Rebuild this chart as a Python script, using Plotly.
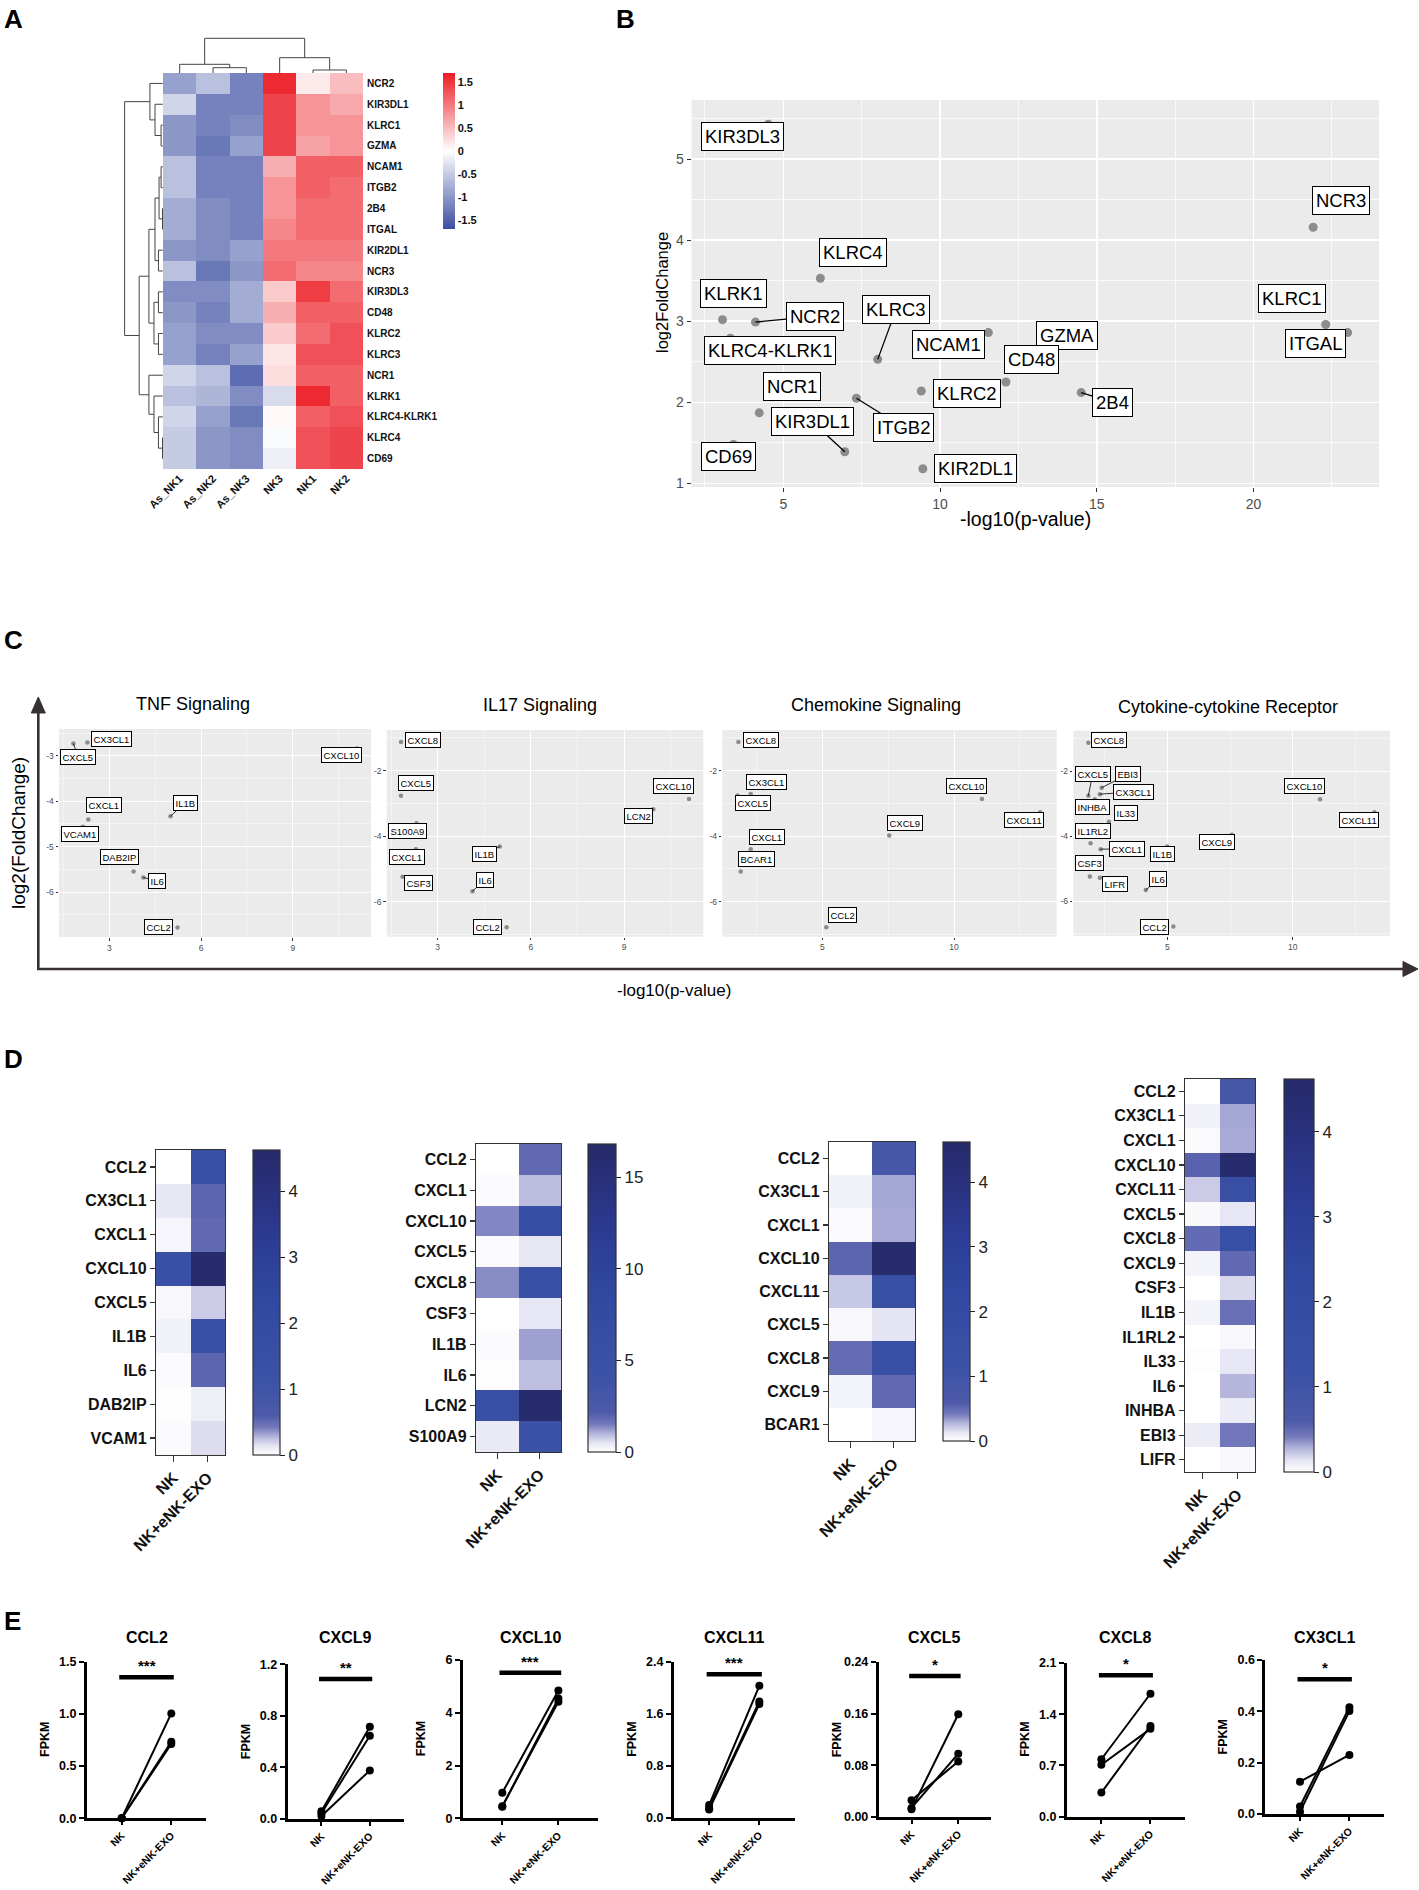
import plotly.graph_objects as go

W, H = 1419, 1890
FONT = "Liberation Sans, Arial, Helvetica, sans-serif"

# ======================= DATA =======================
# ---- Panel A : z-score heatmap ----
a_genes = ["NCR2", "KIR3DL1", "KLRC1", "GZMA", "NCAM1", "ITGB2", "2B4", "ITGAL", "KIR2DL1", "NCR3",
           "KIR3DL3", "CD48", "KLRC2", "KLRC3", "NCR1", "KLRK1", "KLRC4-KLRK1", "KLRC4", "CD69"]
a_samples = ["As_NK1", "As_NK2", "As_NK3", "NK3", "NK1", "NK2"]
a_z = [
    [-0.9, -0.6, -1.2, 1.6, 0.15, 0.5],
    [-0.4, -1.2, -1.2, 1.4, 0.8, 0.65],
    [-1.0, -1.2, -1.1, 1.4, 0.8, 0.8],
    [-1.0, -1.3, -0.9, 1.4, 0.7, 0.8],
    [-0.6, -1.2, -1.2, 0.6, 1.2, 1.2],
    [-0.6, -1.2, -1.2, 0.8, 1.2, 1.1],
    [-0.8, -1.1, -1.2, 0.8, 1.1, 1.1],
    [-0.8, -1.1, -1.2, 0.9, 1.1, 1.1],
    [-1.0, -1.1, -0.9, 1.0, 1.0, 1.0],
    [-0.6, -1.3, -1.0, 1.1, 0.9, 0.9],
    [-1.1, -1.1, -0.8, 0.4, 1.45, 1.1],
    [-1.0, -1.2, -0.8, 0.6, 1.2, 1.2],
    [-0.9, -1.1, -1.1, 0.4, 1.1, 1.3],
    [-0.9, -1.2, -0.9, 0.2, 1.3, 1.3],
    [-0.4, -0.6, -1.4, 0.25, 1.2, 1.2],
    [-0.6, -0.7, -1.1, -0.35, 1.6, 1.2],
    [-0.4, -0.9, -1.3, 0.05, 1.2, 1.3],
    [-0.5, -1.0, -1.1, -0.05, 1.3, 1.4],
    [-0.5, -1.0, -1.1, -0.15, 1.3, 1.4],
]
# dendrograms: (height, left, right) ; leaves = index
a_col_tree = (34.7, (8.7, 0, (5.3, 1, 2)), (15.3, 3, (3.0, 4, 5)))
a_row_tree = (37.7,
              (12.7, 0, (7.7, 1, (1.7, 2, 3))),
              (23.3,
               (13.7, (7.7, (3.7, (1.7, 4, 5), (0.3, 6, 7)), (4.3, 8, 9)),
                (8.7, (4.3, 10, 11), (4.3, 12, 13))),
               (13.7, 14, (8.7, 15, (4.3, 16, (0.3, 17, 18))))))

# ---- Panel B : volcano-like scatter ----
b_genes = ["KIR3DL3", "NCR3", "KLRC4", "KLRK1", "NCR2", "KLRC4-KLRK1", "KLRC3", "NCAM1", "GZMA", "CD48",
           "KLRC1", "ITGAL", "KLRC2", "2B4", "NCR1", "ITGB2", "KIR3DL1", "CD69", "KIR2DL1"]
b_x = [4.52, 21.9, 6.18, 3.06, 4.11, 3.31, 8.01, 11.54, 13.3, 12.1, 22.3, 23.0, 9.40, 14.5, 4.23, 7.33, 6.96, 3.41, 9.45]
b_y = [5.43, 4.16, 3.53, 3.02, 2.99, 2.79, 2.53, 2.86, 2.80, 2.25, 2.96, 2.86, 2.14, 2.12, 1.87, 2.05, 1.39, 1.48, 1.18]

# ---- Panel C : four pathway scatters ----
tnf_genes = ["CXCL5", "CX3CL1", "CXCL10", "CXCL1", "VCAM1", "IL1B", "DAB2IP", "IL6", "CCL2"]
tnf_x = [1.82, 2.28, 11.09, 2.31, 2.13, 5.00, 3.79, 4.11, 5.23]
tnf_y = [-2.73, -2.71, -2.84, -4.40, -4.56, -4.33, -5.55, -5.68, -6.78]

il17_genes = ["CXCL8", "CXCL5", "S100A9", "CXCL1", "CSF3", "IL1B", "IL6", "CCL2", "CXCL10", "LCN2"]
il17_x = [1.82, 1.82, 2.32, 2.30, 1.87, 5.00, 4.12, 5.22, 11.09, 9.94]
il17_y = [-1.13, -2.77, -3.61, -4.40, -5.24, -4.32, -5.68, -6.78, -2.87, -3.18]

chem_genes = ["CXCL8", "CX3CL1", "CXCL5", "CXCL1", "BCAR1", "CCL2", "CXCL9", "CXCL10", "CXCL11"]
chem_x = [1.81, 2.28, 1.78, 2.28, 1.90, 5.15, 7.54, 11.06, 13.27]
chem_y = [-1.13, -2.71, -2.76, -4.40, -5.08, -6.78, -3.98, -2.87, -3.27]

cyto_genes = ["CXCL8", "CXCL5", "EBI3", "CX3CL1", "INHBA", "IL33", "IL1RL2", "CXCL1", "IL1B", "CSF3",
              "LIFR", "IL6", "CCL2", "CXCL9", "CXCL10", "CXCL11"]
cyto_x = [1.85, 1.85, 2.38, 2.31, 2.11, 2.67, 1.94, 2.34, 5.00, 1.91, 2.31, 4.14, 5.24, 7.57, 11.09, 13.26]
cyto_y = [-1.13, -2.76, -2.51, -2.71, -2.87, -3.56, -4.22, -4.40, -4.32, -5.24, -5.28, -5.66, -6.78, -3.96, -2.87, -3.27]

c_titles = ["TNF Signaling", "IL17 Signaling", "Chemokine Signaling", "Cytokine-cytokine Receptor"]

# ---- Panel D : expression heatmaps (NK vs NK+eNK-EXO) ----
d_groups = ["NK", "NK+eNK-EXO"]
d1_genes = ["CCL2", "CX3CL1", "CXCL1", "CXCL10", "CXCL5", "IL1B", "IL6", "DAB2IP", "VCAM1"]
d1_nk = [0.0, 0.12, 0.05, 1.4, 0.04, 0.07, 0.02, 0.01, 0.02]
d1_exo = [1.6, 0.53, 0.51, 4.5, 0.21, 1.4, 0.53, 0.09, 0.16]
d2_genes = ["CCL2", "CXCL1", "CXCL10", "CXCL5", "CXCL8", "CSF3", "IL1B", "IL6", "LCN2", "S100A9"]
d2_nk = [0.0, 0.08, 1.4, 0.1, 1.35, 0.0, 0.07, 0.03, 5.5, 0.39]
d2_exo = [1.85, 0.92, 5.9, 0.45, 5.0, 0.47, 1.18, 0.9, 16.5, 4.2]
d3_genes = ["CCL2", "CX3CL1", "CXCL1", "CXCL10", "CXCL11", "CXCL5", "CXCL8", "CXCL9", "BCAR1"]
d3_nk = [0.0, 0.07, 0.025, 0.53, 0.22, 0.04, 0.49, 0.06, 0.0]
d3_exo = [0.8, 0.31, 0.3, 4.48, 1.5, 0.14, 1.55, 0.51, 0.05]
d4_genes = ["CCL2", "CX3CL1", "CXCL1", "CXCL10", "CXCL11", "CXCL5", "CXCL8", "CXCL9", "CSF3", "IL1B",
            "IL1RL2", "IL33", "IL6", "INHBA", "EBI3", "LIFR"]
d4_nk = [0.0, 0.07, 0.025, 0.55, 0.21, 0.03, 0.5, 0.06, 0.0, 0.06, 0.0, 0.01, 0.0, 0.0, 0.1, 0.0]
d4_exo = [0.8, 0.31, 0.3, 4.48, 1.5, 0.13, 1.6, 0.51, 0.17, 0.47, 0.04, 0.13, 0.27, 0.1, 0.43, 0.04]

# ---- Panel E : paired FPKM plots ----
e_genes = ["CCL2", "CXCL9", "CXCL10", "CXCL11", "CXCL5", "CXCL8", "CX3CL1"]
e_nk = [[0.0, 0.0, 0.0], [0.06, 0.044, 0.023], [0.97, 0.44, 0.46], [0.20, 0.15, 0.13],
        [0.012, 0.026, 0.014], [0.785, 0.71, 0.33], [0.126, 0.029, 0.009]]
e_exo = [[1.005, 0.734, 0.712], [0.716, 0.646, 0.377], [4.84, 4.54, 4.42], [2.03, 1.79, 1.75],
         [0.159, 0.086, 0.098], [1.68, 1.20, 1.24], [0.23, 0.416, 0.401]]
e_sig = ["***", "**", "***", "***", "*", "*", "*"]
e_ticks = [["0.0", "0.5", "1.0", "1.5"], ["0.0", "0.4", "0.8", "1.2"], ["0", "2", "4", "6"],
           ["0.0", "0.8", "1.6", "2.4"], ["0.00", "0.08", "0.16", "0.24"], ["0.0", "0.7", "1.4", "2.1"],
           ["0.0", "0.2", "0.4", "0.6"]]

# ======================= LAYOUT HELPERS =======================
fig = go.Figure()
axes_layout = {}
annotations = []
shapes = []
counter = [0]


def new_axes(x0, x1, y0, y1, xo=None, yo=None):
    counter[0] += 1
    s = "" if counter[0] == 1 else str(counter[0])
    xd = dict(domain=[x0 / W, x1 / W], anchor="y" + s, automargin=False, showgrid=False,
              zeroline=False, showline=False, ticks="", fixedrange=True)
    yd = dict(domain=[1 - y1 / H, 1 - y0 / H], anchor="x" + s, automargin=False, showgrid=False,
              zeroline=False, showline=False, ticks="", fixedrange=True)
    if xo:
        xd.update(xo)
    if yo:
        yd.update(yo)
    axes_layout["xaxis" + s] = xd
    axes_layout["yaxis" + s] = yd
    return "x" + s, "y" + s


def dendro_segments(tree):
    pos, hts = [], []

    def rec(node):
        if isinstance(node, int):
            return float(node), 0.0
        h, l, r = node
        pl, hl = rec(l)
        pr, hr = rec(r)
        pos.extend([pl, pl, pr, pr, None])
        hts.extend([hl, h, h, hr, None])
        return (pl + pr) / 2.0, h

    rec(tree)
    return pos, hts


def letter(txt, x, y):
    annotations.append(dict(text="<b>%s</b>" % txt, x=x / W, y=1 - y / H, xref="paper", yref="paper",
                            xanchor="left", yanchor="top", showarrow=False,
                            font=dict(size=26, color="black", family=FONT)))


def ptext(txt, x, y, size, angle=0, weight="normal", color="black"):
    annotations.append(dict(text=txt, x=x / W, y=1 - y / H, xref="paper", yref="paper",
                            xanchor="center", yanchor="middle", showarrow=False, textangle=angle,
                            font=dict(size=size, color=color, family=FONT, weight=weight)))


# ======================= PANEL A =======================
letter("A", 2, 2)
A_SCALE = [[0, "#3b4ea1"], [0.5, "#ffffff"], [1, "#ec1c24"]]
bold_narrow = dict(size=10, color="#111", family="Liberation Sans Narrow, Liberation Sans, Arial", weight="bold")
bold_cols = dict(size=11, color="#111", family="Liberation Sans Narrow, Liberation Sans, Arial", weight="bold")
ax, ay = new_axes(163, 363, 73, 469,
                  dict(range=[-0.5, 5.5], tickmode="array", tickvals=list(range(6)), ticktext=a_samples,
                       tickangle=-45, tickfont=bold_cols),
                  dict(range=[18.5, -0.5], tickmode="array", tickvals=list(range(19)), ticktext=a_genes,
                       side="right", tickfont=bold_narrow, ticklabelstandoff=3))
fig.add_trace(go.Heatmap(z=a_z, x=list(range(6)), y=list(range(19)), xaxis=ax, yaxis=ay,
                         zmin=-1.7, zmax=1.7, colorscale=A_SCALE, hoverinfo="skip",
                         colorbar=dict(x=443 / W, xanchor="left", y=1 - 151 / H, yanchor="middle",
                                       len=156, lenmode="pixels", thickness=12, thicknessmode="pixels",
                                       xpad=0, ypad=0, outlinewidth=0, ticks="",
                                       tickvals=[1.5, 1, 0.5, 0, -0.5, -1, -1.5],
                                       ticktext=["1.5", "1", "0.5", "0", "-0.5", "-1", "-1.5"],
                                       tickfont=bold_cols)))
cpos, chts = dendro_segments(a_col_tree)
dx, dy = new_axes(163, 363, 37, 73, dict(range=[-0.5, 5.5], showticklabels=False),
                  dict(range=[0, 36], showticklabels=False))
fig.add_trace(go.Scatter(x=cpos, y=chts, mode="lines", line=dict(color="#444", width=1),
                         xaxis=dx, yaxis=dy, hoverinfo="skip"))
rpos, rhts = dendro_segments(a_row_tree)
rx, ry = new_axes(124, 163, 73, 469, dict(range=[38.3, -0.2], showticklabels=False),
                  dict(range=[18.5, -0.5], showticklabels=False))
fig.add_trace(go.Scatter(x=rhts, y=rpos, mode="lines", line=dict(color="#444", width=1),
                         xaxis=rx, yaxis=ry, hoverinfo="skip"))

# ======================= label helper (ggrepel style) =======================


def add_labels(names, xs, ys, labpos, segs, xr, yr, size, pad, aw):
    for n, x, y, (lx, ly) in zip(names, xs, ys, labpos):
        base = dict(text=n, xref=xr, yref=yr, font=dict(size=size, color="black", family=FONT),
                    bgcolor="white", bordercolor="black", borderwidth=1, borderpad=pad)
        if n in segs:
            base.update(x=x, y=y, ax=lx, ay=ly, axref=xr, ayref=yr, showarrow=True, arrowhead=0,
                        arrowwidth=aw, arrowcolor="black")
        else:
            base.update(x=lx, y=ly, showarrow=False)
        annotations.append(base)


def gg_axes(x0, x1, y0, y1, xr, yr, xt, yt, xminor, yminor, fs, tl, gw):
    xo = dict(range=xr, tickmode="array", tickvals=xt, ticktext=[str(v) for v in xt], showgrid=True,
              gridcolor="white", gridwidth=gw, ticks="outside", ticklen=tl, tickcolor="#333", tickwidth=1,
              tickfont=dict(size=fs, color="#4d4d4d", family=FONT),
              minor=dict(tickmode="linear", tick0=0, dtick=xminor, showgrid=True, gridcolor="white",
                         gridwidth=gw * 0.45, ticks=""))
    yo = dict(range=yr, tickmode="array", tickvals=yt, ticktext=[str(v) for v in yt], showgrid=True,
              gridcolor="white", gridwidth=gw, ticks="outside", ticklen=tl, tickcolor="#333", tickwidth=1,
              tickfont=dict(size=fs, color="#4d4d4d", family=FONT),
              minor=dict(tickmode="linear", tick0=0, dtick=yminor, showgrid=True, gridcolor="white",
                         gridwidth=gw * 0.45, ticks=""))
    xa, ya = new_axes(x0, x1, y0, y1, xo, yo)
    shapes.append(dict(type="rect", xref=xa + " domain", yref=ya + " domain", x0=0, x1=1, y0=0, y1=1,
                       fillcolor="#EBEBEB", line=dict(width=0), layer="below"))
    return xa, ya


# ======================= PANEL B =======================
letter("B", 614, 2)
bxa, bya = gg_axes(691.5, 1379, 100, 487, [2.07, 24.0], [0.955, 5.73], [5, 10, 15, 20], [1, 2, 3, 4, 5],
                   2.5, 0.5, 14, 4, 1.6)
fig.add_trace(go.Scatter(x=b_x, y=b_y, mode="markers", marker=dict(color="#8c8c8c", size=9),
                         xaxis=bxa, yaxis=bya, hoverinfo="skip", cliponaxis=False))
b_labpos = [(3.69, 5.28), (22.8, 4.49), (7.23, 3.85), (3.42, 3.34), (6.0, 3.06), (4.57, 2.64), (8.6, 3.15),
            (10.26, 2.71), (14.05, 2.83), (12.9, 2.53), (21.24, 3.28), (21.96, 2.72), (10.87, 2.11),
            (15.5, 2.0), (5.29, 2.20), (8.84, 1.69), (5.92, 1.76), (3.25, 1.33), (11.14, 1.18)]
add_labels(b_genes, b_x, b_y, b_labpos, {"NCR2", "KLRC3", "ITGB2", "KIR3DL1", "2B4"}, bxa, bya, 18.5, 3, 1.3)
ptext("log2FoldChange", 662, 293, 16.5, angle=-90)
ptext("-log10(p-value)", 1025, 519, 19.5)

# ======================= PANEL C =======================
letter("C", 2, 623)
c_specs = [
    (tnf_genes, tnf_x, tnf_y,
     [(1.98, -3.02), (3.08, -2.62), (10.6, -2.98), (2.81, -4.09), (2.04, -4.73), (5.48, -4.03),
      (3.32, -5.22), (4.55, -5.76), (4.62, -6.78)],
     {"CXCL5", "IL1B", "IL6"}, (59, 371, 729, 937), [1.35, 11.56], [-6.99, -2.41],
     [3, 6, 9], [-6, -5, -4, -3], 1.5, 0.5, (193, 704)),
    (il17_genes, il17_x, il17_y,
     [(2.54, -1.06), (2.29, -2.39), (2.03, -3.83), (2.00, -4.63), (2.38, -5.44), (4.50, -4.54),
      (4.52, -5.34), (4.61, -6.78), (10.59, -2.47), (9.46, -3.40)],
     {"IL1B", "IL6", "LCN2"}, (386.7, 703.3, 730, 936.7), [1.36, 11.55], [-7.07, -0.76],
     [3, 6, 9], [-6, -4, -2], 1.5, 1, (540, 705)),
    (chem_genes, chem_x, chem_y,
     [(2.66, -1.06), (2.89, -2.34), (2.38, -2.98), (2.89, -4.02), (2.51, -4.70), (5.77, -6.41),
      (8.15, -3.59), (10.46, -2.47), (12.67, -3.51)],
     set(), (722.3, 1056.7, 730, 936.7), [1.20, 13.9], [-7.07, -0.76],
     [5, 10], [-6, -4, -2], 2.5, 1, (876, 705)),
    (cyto_genes, cyto_x, cyto_y,
     [(2.69, -1.06), (2.02, -2.10), (3.44, -2.10), (3.67, -2.64), (2.02, -3.12), (3.35, -3.28),
      (2.05, -3.83), (3.40, -4.40), (4.81, -4.54), (1.91, -4.83), (2.91, -5.47), (4.64, -5.32),
      (4.47, -6.78), (6.97, -4.19), (10.47, -2.47), (12.66, -3.49)],
     {"CXCL5", "EBI3", "CX3CL1", "CXCL1", "IL6"}, (1073.3, 1390, 730.7, 936), [1.25, 13.88], [-7.07, -0.76],
     [5, 10], [-6, -4, -2], 2.5, 1, (1228, 707)),
]
for (title, spec) in zip(c_titles, c_specs):
    names, xs, ys, labpos, segs, box, xr, yr, xt, yt, xm, ym, tpos = spec
    cxa, cya = gg_axes(box[0], box[1], box[2], box[3], xr, yr, xt, yt, xm, ym, 8.5, 2.5, 1.0)
    fig.add_trace(go.Scatter(x=xs, y=ys, mode="markers", marker=dict(color="#8c8c8c", size=4.5),
                             xaxis=cxa, yaxis=cya, hoverinfo="skip", cliponaxis=False))
    add_labels(names, xs, ys, labpos, segs, cxa, cya, 9.5, 1.5, 0.8)
    ptext(title, tpos[0], tpos[1], 18)

# big arrows for panel C
AX_COL = "#383030"


def pp(x, y):
    return "%.5f,%.5f" % (x / W, 1 - y / H)


shapes.append(dict(type="line", xref="paper", yref="paper", x0=38.3 / W, x1=38.3 / W, y0=1 - 969.5 / H,
                   y1=1 - 710 / H, line=dict(color=AX_COL, width=2.6)))
shapes.append(dict(type="path", xref="paper", yref="paper",
                   path="M %s L %s L %s Z" % (pp(31.3, 713), pp(38.3, 697), pp(45.3, 713)),
                   fillcolor=AX_COL, line=dict(color=AX_COL, width=1)))
shapes.append(dict(type="line", xref="paper", yref="paper", x0=37 / W, x1=1405 / W, y0=1 - 969 / H,
                   y1=1 - 969 / H, line=dict(color=AX_COL, width=2.6)))
shapes.append(dict(type="path", xref="paper", yref="paper",
                   path="M %s L %s L %s Z" % (pp(1403, 961.5), pp(1418, 969), pp(1403, 976.5)),
                   fillcolor=AX_COL, line=dict(color=AX_COL, width=1)))
ptext("log2(FoldChange)", 18, 833, 19, angle=-90)
ptext("-log10(p-value)", 674, 990, 17)

# ======================= PANEL D =======================
letter("D", 2, 1042)
D_SCALE = [[0, "#ffffff"], [0.03, "#e4e4f3"], [0.06, "#b3b4db"], [0.09, "#7479bb"], [0.13, "#4d5aa9"],
           [0.25, "#3b52a6"], [0.5, "#3149a0"], [0.7, "#2c3c94"], [0.85, "#29327f"], [1, "#262a69"]]
d_specs = [
    (d1_genes, d1_nk, d1_exo, (156, 225, 1150, 1455), (253, 280), 4.63, [0, 1, 2, 3, 4]),
    (d2_genes, d2_nk, d2_exo, (476, 561, 1144, 1452), (588, 616), 16.8, [0, 5, 10, 15]),
    (d3_genes, d3_nk, d3_exo, (829, 915, 1142, 1441), (943, 970), 4.62, [0, 1, 2, 3, 4]),
    (d4_genes, d4_nk, d4_exo, (1185, 1255, 1079, 1472), (1284, 1314), 4.62, [0, 1, 2, 3, 4]),
]
dfont = dict(size=16, color="#111", family=FONT, weight="bold")
for genes, nk, exo, box, cb, zmax, cticks in d_specs:
    n = len(genes)
    hxa, hya = new_axes(box[0], box[1], box[2], box[3],
                        dict(range=[-0.5, 1.5], tickmode="array", tickvals=[0, 1], ticktext=d_groups,
                             tickangle=-45, ticks="outside", ticklen=6, tickcolor="#333", tickwidth=1.2,
                             showline=True, mirror=True, linecolor="#333", linewidth=1.2, tickfont=dfont),
                        dict(range=[n - 0.5, -0.5], tickmode="array", tickvals=list(range(n)), ticktext=genes,
                             ticks="outside", ticklen=5, tickcolor="#333", tickwidth=1.2,
                             showline=True, mirror=True, linecolor="#333", linewidth=1.2, tickfont=dfont))
    z = [[a, b] for a, b in zip(nk, exo)]
    fig.add_trace(go.Heatmap(z=z, x=[0, 1], y=list(range(n)), xaxis=hxa, yaxis=hya, zmin=0, zmax=zmax,
                             colorscale=D_SCALE, hoverinfo="skip",
                             colorbar=dict(x=cb[0] / W, xanchor="left", y=1 - (box[2] + box[3]) / 2 / H,
                                           yanchor="middle", len=box[3] - box[2], lenmode="pixels",
                                           thickness=cb[1] - cb[0], thicknessmode="pixels", xpad=0, ypad=0,
                                           outlinewidth=1.2, outlinecolor="#333", tickvals=cticks,
                                           ticks="outside", ticklen=5, tickcolor="#222",
                                           tickfont=dict(size=17, color="#222", family=FONT))))

# ======================= PANEL E =======================
letter("E", 2, 1604)
e_boxes = [(87, 206, 1661.7, 1818.3), (287.6, 403.7, 1664.3, 1819), (463, 597.7, 1660, 1818.3),
           (674, 794.5, 1661.7, 1818), (878.8, 991, 1662, 1817), (1067, 1184.8, 1663, 1816.7),
           (1265.4, 1384, 1660, 1814)]
e_sig_frac = [0.90, 0.905, 0.92, 0.92, 0.91, 0.92, 0.875]
efont = dict(size=12.5, color="black", family=FONT, weight="bold")
for i, g in enumerate(e_genes):
    x0, x1, y0, y1 = e_boxes[i]
    tv = [float(t) for t in e_ticks[i]]
    top = tv[-1]
    exa, eya = new_axes(x0, x1, y0, y1,
                        dict(range=[-0.7, 1.7], tickmode="array", tickvals=[0, 1], ticktext=d_groups,
                             tickangle=-45, ticks="outside", ticklen=4, tickwidth=2, tickcolor="black",
                             showline=True, linecolor="black", linewidth=3, ticklabelstandoff=0,
                             tickfont=dict(size=10.5, color="black", family=FONT, weight="bold")),
                        dict(range=[0, top], tickmode="array", tickvals=tv, ticktext=e_ticks[i],
                             ticks="outside", ticklen=5, tickwidth=2, tickcolor="black",
                             showline=True, linecolor="black", linewidth=3, tickfont=efont))
    for a, b in zip(e_nk[i], e_exo[i]):
        fig.add_trace(go.Scatter(x=[0, 1], y=[a, b], mode="lines+markers",
                                 line=dict(color="black", width=2), marker=dict(color="black", size=8),
                                 xaxis=exa, yaxis=eya, hoverinfo="skip", cliponaxis=False))
    sy = top * e_sig_frac[i]
    shapes.append(dict(type="line", xref=exa, yref=eya, x0=-0.05, x1=1.05, y0=sy, y1=sy,
                       line=dict(color="black", width=4.5)))
    annotations.append(dict(text="<b>%s</b>" % e_sig[i], x=0.5, y=sy, xref=exa, yref=eya, yanchor="bottom",
                            yshift=1, showarrow=False, font=dict(size=15, color="black", family=FONT)))
    annotations.append(dict(text="<b>%s</b>" % g, x=0.5, y=1 - 1637 / H, xref=exa, yref="paper",
                            yanchor="middle", showarrow=False, font=dict(size=16, color="black", family=FONT)))
    ptext("<b>FPKM</b>", x0 - 42, (y0 + y1) / 2, 12.5, angle=-90)

# ======================= FINAL =======================
fig.update_layout(**axes_layout)
fig.update_layout(width=W, height=H, margin=dict(l=0, r=0, t=0, b=0), showlegend=False,
                  plot_bgcolor="white", paper_bgcolor="white",
                  font=dict(family=FONT, color="black"),
                  annotations=annotations, shapes=shapes)
fig.write_html("out.html", config={"displayModeBar": False, "staticPlot": True},
               post_script="document.body.style.margin='0px';")
